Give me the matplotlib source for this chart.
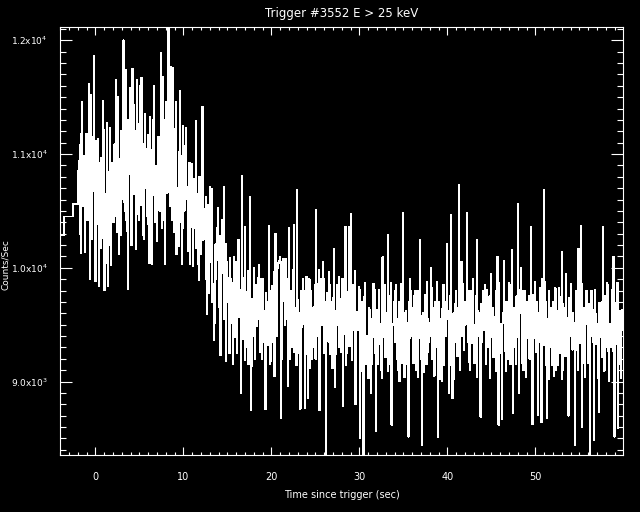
import matplotlib
matplotlib.use("Agg")
import matplotlib.pyplot as plt
from matplotlib.ticker import FixedLocator, MultipleLocator
import numpy as np

# coarse pre-trigger bins (start time, counts/sec)
pre_times = [-4.6, -3.55, -2.53]
pre_counts = [10290, 10450, 10561]

# 64 ms data after -1.96 s, 16 bins (1.024 s) per row
t_start = -1.96
dt = 0.064
counts = [
    10850, 10940, 11080, 10300, 10130, 11180, 11460, 10540, 10620, 10780, 10980, 10140, 10280, 11020, 11180, 10620,
    10420, 10430, 11620, 10910, 9900, 10270, 11520, 11150, 10250, 10670, 10750, 11310, 11860, 10510, 9880, 10830,
    11120, 10730, 10380, 11130, 9840, 10410, 10920, 10170, 10560, 10970, 10260, 10490, 11470, 11210, 9800, 10250,
    10650, 10440, 11270, 10040, 9840, 10840, 10540, 10680, 11230, 10200, 10020, 10920, 10860, 10520, 10400, 11080,
    10700, 11090, 11650, 10450, 10310, 11330, 11500, 10690, 10120, 10930, 10960, 10290, 11200, 11170, 10600, 10770,
    12000, 10580, 10500, 11060, 11740, 10420, 10320, 11300, 9810, 10820, 10900, 11460, 11580, 10660, 10200, 10980,
    11750, 11030, 10650, 11430, 11200, 10710, 10160, 10470, 11650, 11270, 10880, 10790, 10420, 11510, 11600, 10550,
    11670, 10690, 10900, 10290, 10250, 11090, 11350, 10930, 10700, 10450, 11050, 11170, 10380, 10770, 10040, 11330,
    10620, 11040, 10030, 10400, 11300, 11280, 11600, 10640, 10400, 10880, 10900, 10240, 10230, 11120, 11150, 10720,
    10500, 10580, 11890, 11060, 10350, 10420, 11680, 11300, 10900, 10820, 10030, 11460, 11050, 10660, 10660, 10980,
    12200, 10980, 10540, 11380, 11770, 10660, 10900, 10420, 11760, 11220, 10310, 10740, 11000, 11460, 10120, 10500,
    10700, 10590, 11020, 10190, 11555, 10990, 10400, 10830, 10030, 10350, 11250, 11070, 10500, 10670, 10820, 11230,
    10600, 10710, 10250, 10150, 10780, 10920, 10030, 10360, 10450, 10570, 10910, 10010, 10350, 10780, 10700, 10430,
    11290, 10170, 10300, 10590, 10650, 10030, 9890, 10800, 10500, 10380, 10120, 10940, 11415, 10240, 10250, 10520,
    10400, 10270, 9900, 10620, 9594, 9990, 10550, 9780, 10150, 10480, 10710, 10060, 10050, 10690, 9700, 9850,
    9360, 9860, 10200, 9510, 9900, 10210, 10350, 10070, 10530, 9650, 9800, 10280, 9230, 9930, 10100, 10420,
    9950, 10030, 10710, 9550, 9600, 10210, 9180, 9730, 10050, 9910, 9700, 9430, 9250, 10090, 9900, 9790,
    9750, 9510, 9150, 9870, 10100, 9390, 9500, 10050, 9850, 9690, 9250, 10170, 10250, 9570, 9600, 9810,
    8900, 9610, 10810, 9910, 9550, 9370, 9800, 9190, 10360, 9790, 9300, 9430, 9650, 9970, 9150, 9250,
    10626, 9430, 8750, 9130, 9700, 9730, 9400, 9610, 10000, 9250, 9200, 9790, 9850, 9490, 9550, 9910,
    10030, 9740, 9400, 9260, 9650, 9900, 9200, 9420, 9900, 9620, 9350, 9140, 8760, 9780, 9700, 9480,
    9500, 9320, 10370, 9680, 9150, 9180, 9800, 9840, 9350, 9500, 9600, 9960, 9050, 9360, 10300, 9620,
    9400, 9700, 10000, 10040, 10050, 10060, 10100, 9900, 8680, 9200, 10050, 10030, 10080, 10000, 9700, 9500,
    10080, 9600, 9550, 9900, 8955, 9360, 10350, 9200, 9500, 9800, 9800, 9420, 9300, 9980, 10380, 9260,
    9650, 9420, 9400, 9140, 10684, 9720, 9550, 9600, 9250, 9260, 8760, 9800, 9700, 9480, 9500, 9900,
    9800, 9720, 8770, 9240, 9600, 9920, 9350, 9440, 8850, 9600, 9900, 9120, 9450, 9800, 9200, 9500,
    9650, 9300, 9300, 9660, 9850, 9200, 10508, 9860, 9400, 9480, 9550, 9980, 8750, 9380, 9900, 9600,
    9500, 9620, 10050, 9900, 9250, 9380, 9700, 9180, 8300, 9780, 9600, 9440, 9350, 9960, 9850, 9240,
    9450, 9440, 9700, 9120, 9200, 9740, 10170, 9620, 8950, 9240, 9600, 9780, 9850, 9500, 9300, 9920,
    9650, 9730, 9400, 9260, 9900, 9900, 8780, 9420, 9550, 9610, 10360, 9140, 9250, 9790, 9700, 9480,
    10356, 9310, 9500, 9670, 10470, 9190, 9300, 9850, 9750, 9490, 9450, 9970, 8800, 9370, 9600, 9610,
    9450, 9510, 9830, 9810, 8500, 9270, 9300, 9090, 9700, 9690, 8300, 9330, 9750, 9870, 9200, 9150,
    9400, 9330, 9050, 9030, 9650, 9630, 9300, 9510, 8900, 9150, 9550, 9690, 9860, 9390, 9250, 9810,
    8560, 9630, 9500, 9150, 9200, 9810, 9750, 9330, 9400, 9510, 9100, 9030, 10093, 9690, 9600, 9390,
    9850, 9210, 9300, 9570, 9600, 9090, 10290, 9750, 9450, 9390, 9150, 9870, 8620, 9270, 9500, 9510,
    9700, 9520, 9350, 9800, 9850, 9280, 9200, 9100, 9550, 9700, 9000, 9340, 9400, 9860, 9750, 9160,
    10480, 9340, 9600, 9040, 9300, 9620, 9500, 9520, 9150, 9160, 8515, 9700, 9900, 9380, 9400, 9800,
    9650, 9640, 9250, 9160, 9750, 9800, 9450, 9320, 9100, 9520, 9800, 9040, 9400, 9700, 10250, 9380,
    9500, 9200, 8440, 9580, 9600, 9080, 9300, 9760, 9750, 9380, 9150, 9880, 9550, 9260, 9350, 9520,
    9400, 9500, 10000, 9820, 9200, 9260, 9650, 9080, 9050, 9700, 9500, 9320, 9300, 9880, 8515, 9140,
    9700, 9320, 9200, 9020, 9550, 9640, 9000, 9500, 9850, 9140, 9400, 9700, 9650, 9400, 10210, 9820,
    9550, 9620, 8900, 9140, 9750, 9820, 10466, 9340, 8850, 9500, 9600, 9020, 9350, 9680, 9800, 9400,
    9400, 9220, 9650, 9560, 10731, 9100, 9200, 9740, 10050, 9400, 9500, 9860, 9300, 9280, 9700, 9500,
    9600, 9520, 10485, 9800, 9350, 9280, 9170, 9100, 9800, 9680, 9450, 9340, 9900, 9860, 9250, 9160,
    9500, 9340, 9750, 9040, 10250, 9620, 9400, 9520, 9600, 9160, 8690, 9680, 9350, 9400, 9650, 9800,
    9450, 9630, 9850, 9150, 9200, 9810, 9600, 9330, 9300, 9510, 9750, 9030, 9950, 9690, 9400, 9390,
    9650, 9210, 9300, 9570, 9550, 9090, 9800, 9750, 10093, 9390, 8620, 9870, 9500, 9270, 9250, 9510,
    8670, 9510, 9600, 9810, 10062, 9270, 9350, 9090, 9700, 9690, 9200, 9330, 9550, 9870, 9850, 9150,
    9400, 9330, 10160, 9030, 8720, 9630, 9650, 9510, 9300, 9150, 9750, 9690, 10561, 9390, 8900, 9810,
    9600, 9640, 10000, 9160, 9450, 9800, 9100, 9320, 9800, 9520, 9350, 9040, 9650, 9700, 9500, 9380,
    9750, 9200, 9300, 9580, 10362, 9080, 8625, 9760, 9550, 9380, 9850, 9880, 9400, 9260, 9700, 9520,
    8705, 9500, 9600, 9820, 9350, 9260, 8640, 9080, 9900, 9700, 10684, 9320, 9450, 9880, 9700, 9140,
    8675, 9320, 9550, 9020, 9800, 9640, 9300, 9500, 9650, 9140, 9450, 9700, 9050, 9400, 9700, 9820,
    9100, 9620, 9600, 9140, 9400, 9820, 9750, 9340, 9250, 9500, 10143, 9020, 9100, 9680, 9500, 9400,
    9650, 9220, 9950, 9560, 9300, 9100, 8700, 9740, 9550, 9400, 9850, 9860, 9400, 9280, 9600, 9500,
    9450, 9520, 8440, 9800, 9700, 9280, 9300, 9100, 10166, 9680, 9550, 9340, 10367, 9860, 8600, 9160,
    9400, 9340, 9650, 9040, 9250, 9620, 9800, 9520, 9500, 9160, 9300, 9680, 8300, 9400, 9600, 9800,
    9750, 9630, 9350, 9150, 8487, 9810, 9600, 9330, 9500, 9510, 9200, 9030, 8734, 9690, 9550, 9390,
    9400, 9210, 9700, 9570, 10362, 9090, 9100, 9750, 9550, 9390, 9300, 9870, 9850, 9270, 9000, 9510,
    9500, 9510, 9300, 9810, 9650, 9270, 10093, 9090, 8515, 9690, 9600, 9330, 9450, 9870, 8590, 9150,
    9500, 9330, 9620, 9030, 9300, 9630, 9450, 9510, 9550, 9150, 9400, 9690, 9600, 9390, 9500, 9810,
]

y_ticks = [9000, 10000, 11000, 12000]
y_labels = ["9.0x10$^3$", "1.0x10$^4$", "1.1x10$^4$", "1.2x10$^4$"]
x_ticks = [0, 10, 20, 30, 40, 50]

times = list(pre_times) + list(t_start + dt * np.arange(len(counts)))
values = list(pre_counts) + counts

fig = plt.figure(figsize=(6.4, 5.12), dpi=100, facecolor="black")
ax = fig.add_axes([0.0942, 0.1113, 0.8785, 0.836], facecolor="black")

ax.plot(times, values, color="white", lw=0.5, drawstyle="steps-post",
        antialiased=False)

ax.set_xlim(-4.0, 59.9)
ax.set_ylim(8354, 12117)

ax.xaxis.set_major_locator(FixedLocator(x_ticks))
ax.xaxis.set_minor_locator(MultipleLocator(1))
ax.set_yticks(y_ticks)
ax.set_yticklabels(y_labels)
ax.yaxis.set_minor_locator(MultipleLocator(100))

for s in ax.spines.values():
    s.set_color("white")
    s.set_linewidth(0.8)

ax.tick_params(axis="both", which="both", direction="in", colors="white",
               top=True, right=True, width=0.8, labelsize=7)
ax.tick_params(axis="y", labelsize=6.5)
ax.tick_params(axis="x", which="major", length=6, pad=12)
ax.tick_params(axis="x", which="minor", length=2.5)
ax.tick_params(axis="y", which="major", length=8.5, pad=9)
ax.tick_params(axis="y", which="minor", length=4.3)

ax.set_title("Trigger #3552 E > 25 keV", color="white", fontsize=8.5, pad=7)
ax.set_xlabel("Time since trigger (sec)", color="white", fontsize=7, labelpad=6)
fig.text(6 / 640, 1 - 265 / 512, "Counts/Sec", color="white", fontsize=6.5,
         rotation=90, ha="center", va="center")

fig.savefig("out.png", dpi=100, facecolor="black")
